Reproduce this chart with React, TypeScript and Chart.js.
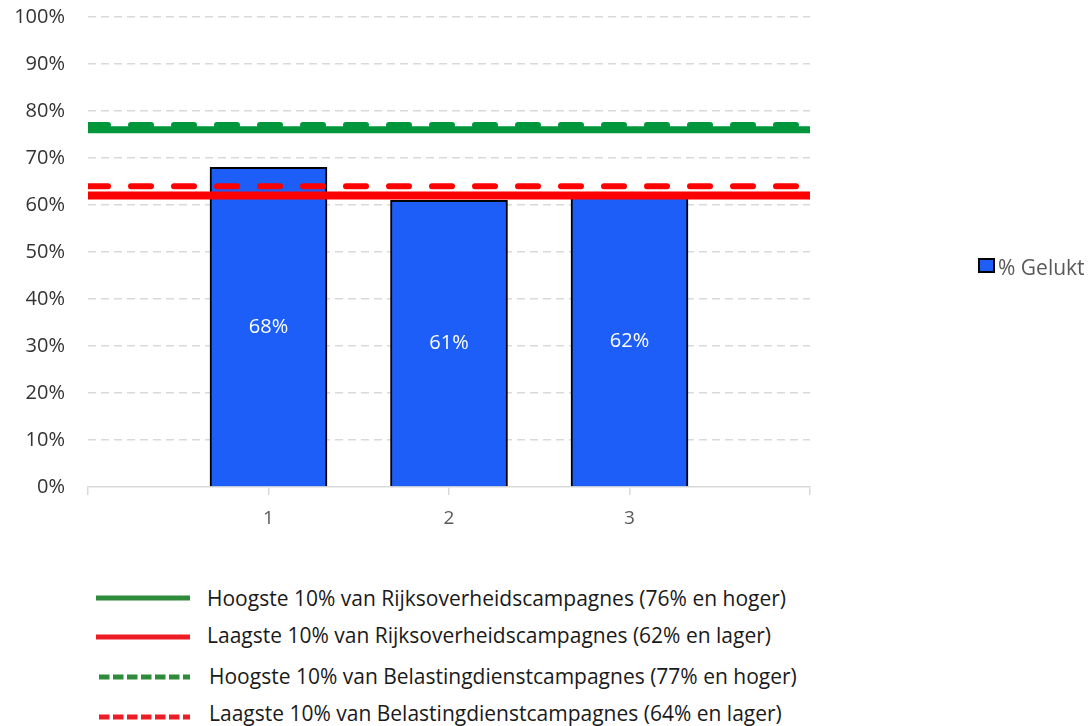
import React, { useEffect, useRef } from "react";
import { Chart, registerables } from "chart.js";

Chart.register(...registerables);

// ---- data ----
const categories = [1, 2, 3];
const geluktValues = [68, 61, 62];
const xRange = [0, 4];
const yTickStep = 10;
const rijkHigh = 76;
const rijkLow = 62;
const belHigh = 77;
const belLow = 64;
const barLabel = "% Gelukt";
const legendItems = [
  { label: "Hoogste 10% van Rijksoverheidscampagnes (76% en hoger)", color: "#2E8B3A", dashed: false },
  { label: "Laagste 10% van Rijksoverheidscampagnes (62% en lager)", color: "#EE1C25", dashed: false },
  { label: "Hoogste 10% van Belastingdienstcampagnes (77% en hoger)", color: "#2E8B3A", dashed: true },
  { label: "Laagste 10% van Belastingdienstcampagnes (64% en lager)", color: "#EE1C25", dashed: true },
];

const FONT = "'Open Sans', 'Liberation Sans', sans-serif";
const BAR_COLOR = "#1D5DF8";
const GREEN = "#00963C";
const RED = "#FF0000";

const hLine = (value: number) => [
  { x: xRange[0], y: value },
  { x: xRange[1], y: value },
];

const barLabelPlugin = {
  id: "barLabels",
  afterDatasetsDraw(chart: any) {
    const meta = chart.getDatasetMeta(0);
    const ctx = chart.ctx;
    ctx.save();
    ctx.fillStyle = "#ffffff";
    ctx.font = `20px ${FONT}`;
    ctx.textAlign = "center";
    ctx.textBaseline = "middle";
    meta.data.forEach((el: any, i: number) => {
      ctx.fillText(`${geluktValues[i]}%`, el.x, (el.y + el.base) / 2);
    });
    ctx.restore();
  },
};

export default function App() {
  const canvasRef = useRef<HTMLCanvasElement | null>(null);

  useEffect(() => {
    document.body.style.margin = "0";
    const canvas = canvasRef.current;
    if (!canvas) return;
    const chart = new Chart(canvas, {
      type: "bar",
      data: {
        datasets: [
          {
            type: "bar",
            label: barLabel,
            data: categories.map((c, i) => ({ x: c, y: geluktValues[i] })),
            backgroundColor: BAR_COLOR,
            borderColor: "#000000",
            borderWidth: 2,
            barThickness: 117,
            order: 10,
          } as any,
          {
            type: "line",
            label: "rijkHigh",
            data: hLine(rijkHigh),
            borderColor: GREEN,
            borderWidth: 7,
            pointRadius: 0,
            borderCapStyle: "butt",
            order: 2,
          },
          {
            type: "line",
            label: "belHigh",
            data: hLine(belHigh),
            borderColor: GREEN,
            borderWidth: 6,
            pointRadius: 0,
            borderDash: [20, 23],
            borderCapStyle: "round",
            order: 1,
          },
          {
            type: "line",
            label: "belLow",
            data: hLine(belLow),
            borderColor: RED,
            borderWidth: 6,
            pointRadius: 0,
            borderDash: [20, 23],
            borderCapStyle: "round",
            order: 1,
          },
          {
            type: "line",
            label: "rijkLow",
            data: hLine(rijkLow),
            borderColor: RED,
            borderWidth: 8,
            pointRadius: 0,
            borderCapStyle: "butt",
            order: 0,
          },
        ],
      },
      options: {
        animation: false,
        responsive: true,
        maintainAspectRatio: false,
        layout: { padding: { top: 17, right: 281, left: 0, bottom: 0 } },
        plugins: {
          legend: { display: false },
          tooltip: { enabled: false },
        },
        scales: {
          x: {
            type: "linear",
            min: xRange[0],
            max: xRange[1],
            offset: false,
            ticks: {
              stepSize: 1,
              padding: 12,
              color: "#595959",
              font: { family: FONT, size: 19 },
              callback: (v: any) => (v >= categories[0] && v <= categories[categories.length - 1] ? String(v) : ""),
            },
            grid: {
              offset: false,
              drawOnChartArea: false,
              drawTicks: true,
              tickLength: 8,
              color: "#d9d9d9",
              lineWidth: 1.5,
            },
            border: { display: true, color: "#d9d9d9", width: 1.5 },
            afterFit: (scale: any) => {
              scale.height = 53;
              scale.paddingLeft = 0;
              scale.paddingRight = 0;
            },
          },
          y: {
            min: 0,
            max: 100,
            ticks: {
              stepSize: yTickStep,
              padding: 23,
              color: "#333333",
              font: { family: FONT, size: 20 },
              callback: (v: any) => `${v}%`,
            },
            grid: {
              drawTicks: false,
              color: (c: any) => (c.tick && c.tick.value === 0 ? "rgba(0,0,0,0)" : "#d9d9d9"),
              lineWidth: 1.5,
            },
            border: { display: false, dash: [8, 5] },
            afterFit: (scale: any) => {
              scale.width = 88;
              scale.paddingTop = 0;
              scale.paddingBottom = 0;
            },
          },
        },
      },
      plugins: [barLabelPlugin],
    });
    return () => chart.destroy();
  }, []);

  const textTops = [598, 635, 676, 713];
  const lineYs = [598, 637, 677, 717];
  const textLefts = [207, 207, 209, 209];

  return (
    <div style={{ position: "relative", width: 1091, height: 726, fontFamily: FONT, overflow: "hidden", background: "#fff" }}>
      <div style={{ position: "absolute", left: 0, top: 0, width: 1091, height: 540 }}>
        <canvas ref={canvasRef} />
      </div>
      <div
        style={{
          position: "absolute",
          left: 978,
          top: 258,
          width: 13,
          height: 11,
          background: BAR_COLOR,
          border: "2px solid #000",
        }}
      />
      <div
        style={{
          position: "absolute",
          left: 998,
          top: 267,
          transform: "translateY(-50%)",
          fontSize: 21,
          color: "#595959",
          whiteSpace: "nowrap",
          lineHeight: 1,
        }}
      >
        {barLabel}
      </div>
      {legendItems.map((item, i) => (
        <React.Fragment key={i}>
          <svg
            style={{ position: "absolute", left: 96, top: lineYs[i] - 5, overflow: "visible" }}
            width={94}
            height={10}
          >
            <line
              x1={item.dashed ? 3 : 0}
              y1={5}
              x2={94}
              y2={5}
              stroke={item.color}
              strokeWidth={5}
              strokeDasharray={item.dashed ? "10.5 3.5" : undefined}
            />
          </svg>
          <div
            style={{
              position: "absolute",
              left: textLefts[i],
              top: textTops[i],
              transform: "translateY(-50%)",
              fontSize: 21,
              color: "#1a1a1a",
              whiteSpace: "nowrap",
              lineHeight: 1,
            }}
          >
            {item.label}
          </div>
        </React.Fragment>
      ))}
    </div>
  );
}
